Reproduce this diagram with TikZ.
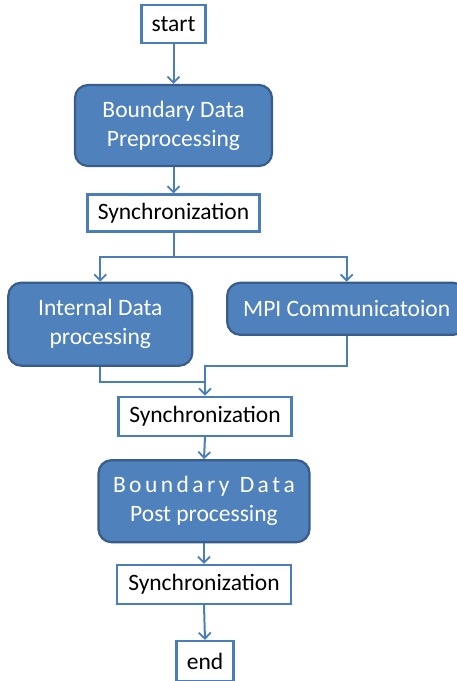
\documentclass[tikz,border=0pt]{standalone}
\usepackage{fontspec}
\setmainfont{Carlito}
\usetikzlibrary{arrows.meta}
\definecolor{boxblue}{HTML}{4F81BD}
\definecolor{boxedge}{HTML}{385D8A}
\definecolor{linkblue}{HTML}{4A7EBB}
\tikzset{
  plainbox/.style={draw=linkblue, line width=2.2pt, fill=white, text=black,
    inner sep=0pt, align=center, font=\fontsize{23.5}{29}\selectfont},
  taskbox/.style={draw=boxedge, line width=2.2pt, fill=boxblue, text=white,
    rounded corners=13pt, inner sep=0pt, align=center,
    font=\fontsize{23.5}{29}\selectfont},
  link/.style={draw=linkblue, line width=2pt},
  arr/.style={link, -{Straight Barb[length=6pt,width=12pt,line width=1.8pt]}}
}
\begin{document}
\begin{tikzpicture}[x=1pt, y=-1pt]
\clip (0,0) rectangle (457,681);
\fill[white] (0,0) rectangle (457,681);

\node[plainbox, minimum width=64pt, minimum height=38pt] (start) at (173.5,24.2) {start};
\node[taskbox, minimum width=197pt, minimum height=81pt] (pre) at (173.5,125.5) {Boundary Data\\Preprocessing};
\node[plainbox, minimum width=172pt, minimum height=37pt] (sync1) at (173.5,213) {Synchronization};
\node[taskbox, minimum width=184pt, minimum height=83pt] (internal) at (100.3,324.2) {Internal Data\\processing};
\node[taskbox, minimum width=239pt, minimum height=52pt] (mpi) at (346.7,308.8) {MPI Communicatoion};
\node[plainbox, minimum width=173pt, minimum height=39pt] (sync2) at (205,416.2) {Synchronization};
\node[taskbox, minimum width=211pt, minimum height=82pt] (post) at (204,501.2)
  {\makebox[182pt][s]{B\hfill o\hfill u\hfill n\hfill d\hfill a\hfill r\hfill y\hfill\hfill\hfill D\hfill a\hfill t\hfill a}\\Post processing};
\node[plainbox, minimum width=174pt, minimum height=39pt] (sync3) at (204,584.5) {Synchronization};
\node[plainbox, minimum width=57pt, minimum height=40pt] (end) at (205,661) {end};

\coordinate (split) at (173.5,257.3);
\coordinate (joinmpi) at (205,366);
\coordinate (joinint) at (205,381.7);

\draw[arr] (start.south) -- (pre.north);
\draw[arr] (pre.south) -- (sync1.north);
\draw[link] (sync1.south) -- (split);
\draw[arr] (split) -| (internal.north);
\draw[arr] (split) -| (mpi.north);
\draw[link] (internal.south) |- (joinint);
\draw[arr] (mpi.south) |- (joinmpi) -- (sync2.north);
\draw[arr] (sync2.south) -- (post.north);
\draw[arr] (post.south) -- (sync3.north);
\draw[arr] (sync3.south) -- (end.north);
\end{tikzpicture}
\end{document}
